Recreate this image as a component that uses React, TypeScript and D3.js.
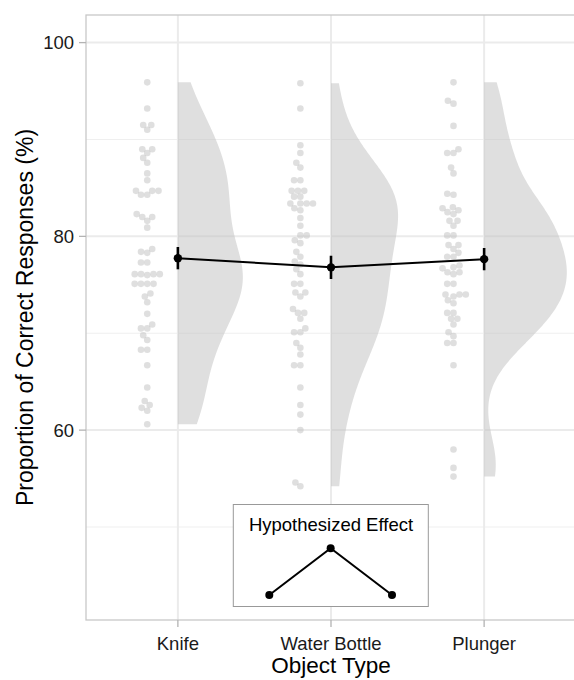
import * as d3 from "d3";

const objectTypes = ["Knife", "Water Bottle", "Plunger"];

// per-participant accuracy (%) for each object
const knifeScores = [95.9, 93.2, 91.5, 91.0, 91.5, 89.0, 88.6, 89.0, 88.1, 87.6, 86.5, 85.8, 84.7, 84.7, 84.3, 84.3, 84.7, 82.0, 81.6, 82.0, 82.3, 80.9, 78.4, 78.3, 78.7, 77.3, 77.3, 76.1, 76.1, 76.0, 76.1, 76.1, 75.1, 75.1, 75.1, 75.1, 73.8, 74.1, 73.2, 72.0, 70.5, 70.5, 70.9, 69.8, 69.3, 68.3, 68.3, 66.7, 64.4, 63.0, 62.6, 62.3, 62.0, 60.6];
const waterScores = [95.8, 93.2, 89.4, 88.6, 87.6, 87.1, 85.8, 85.8, 84.7, 84.7, 84.7, 84.1, 84.1, 83.4, 83.4, 83.4, 83.4, 82.9, 82.7, 81.9, 81.1, 80.1, 80.1, 79.6, 79.3, 78.4, 77.9, 77.4, 77.1, 76.6, 76.1, 75.1, 75.1, 74.2, 74.2, 73.8, 72.5, 72.1, 72.1, 71.5, 70.5, 70.1, 70.1, 69.0, 68.5, 67.8, 66.7, 66.7, 64.4, 62.6, 61.6, 60.0, 54.6, 54.2];
const plungerScores = [95.9, 94.0, 93.7, 91.4, 89.0, 88.6, 88.6, 87.1, 86.5, 84.4, 84.3, 83.0, 82.9, 82.7, 82.5, 82.3, 81.6, 81.6, 81.1, 80.1, 80.1, 79.1, 79.1, 78.7, 78.3, 77.9, 77.9, 77.0, 76.8, 76.7, 76.3, 76.3, 76.1, 75.1, 75.1, 74.0, 74.0, 74.0, 73.8, 73.4, 73.1, 72.1, 72.1, 71.5, 71.5, 70.9, 70.1, 69.7, 69.0, 69.0, 66.7, 58.0, 56.1, 55.2];

const means = [77.75, 76.8, 77.65];
const stdErrs = [1.15, 1.2, 1.15];

const yMajor = [60, 80, 100];
const yMinor = [50, 70, 90];

// inset: hypothesized pattern
const hypoValues = [0, 1, 0];

const width = 574;
const height = 680;
const panel = { left: 86, right: 576, top: 15, bottom: 620 };
const font = "'Liberation Sans', Arial, Helvetica, sans-serif";

const x = d3.scaleLinear([0.4, 3.6], [panel.left, panel.right]);
const y = d3.scaleLinear([40.4, 102.85], [panel.bottom, panel.top]);

// gaussian kde with R's bw.nrd0, trimmed to data range
function density(values: number[]) {
  const s = values.slice().sort(d3.ascending);
  const n = s.length;
  const sd = d3.deviation(s) as number;
  const iqr = (d3.quantileSorted(s, 0.75) as number) - (d3.quantileSorted(s, 0.25) as number);
  const bw = 0.9 * Math.min(sd, iqr / 1.34) * Math.pow(n, -0.2);
  const lo = s[0], hi = s[n - 1];
  const pts: [number, number][] = [];
  for (let i = 0; i < 512; i++) {
    const v = lo + ((hi - lo) * i) / 511;
    let d = 0;
    for (const u of s) {
      const z = (v - u) / bw;
      d += Math.exp(-0.5 * z * z);
    }
    pts.push([v, d / (n * bw * Math.sqrt(2 * Math.PI))]);
  }
  return pts;
}

// simple swarm layout (ascending priority), offsets in px
function swarm(values: number[], diam: number) {
  const order = values.map((v, i) => i).sort((a, b) => values[a] - values[b]);
  const placed: { py: number; dx: number }[] = [];
  const out: { v: number; dx: number }[] = [];
  for (const i of order) {
    const py = y(values[i]);
    const bad: [number, number][] = [];
    for (const p of placed) {
      const dy = Math.abs(p.py - py);
      if (dy < diam) {
        const w = Math.sqrt(diam * diam - dy * dy);
        bad.push([p.dx - w, p.dx + w]);
      }
    }
    const cands = [0, ...bad.flatMap((b) => b)].sort((a, b) => Math.abs(a) - Math.abs(b) || a - b);
    const dx = cands.find((c) => bad.every(([a, b]) => c <= a + 1e-6 || c >= b - 1e-6)) ?? 0;
    placed.push({ py, dx });
    out.push({ v: values[i], dx });
  }
  return out;
}

const groups = [knifeScores, waterScores, plungerScores];
const dens = groups.map(density);
const maxDens = d3.max(dens.flat(), (d) => d[1]) as number;
const halfWidth = 0.54; // x units for widest violin

const insetX = d3.scaleLinear([1, 3], [269.3, 392]);
const insetY = d3.scaleLinear([0, 1], [595, 548.3]);

export default function App() {
  const meanLine = d3.line<number>((d, i) => x(i + 1), (d) => y(d));
  const hypoLine = d3.line<number>((d, i) => insetX(i + 1), (d) => insetY(d));

  return (
    <svg width={width} height={height} style={{ position: "absolute", left: 0, top: 0, background: "white" }} fontFamily={font}>
      {/* grid */}
      <g>
        {yMinor.map((v) => (
          <line key={"mn" + v} x1={panel.left} x2={panel.right} y1={y(v)} y2={y(v)} stroke="#efefef" strokeWidth={1} />
        ))}
        {yMajor.map((v) => (
          <line key={"mj" + v} x1={panel.left} x2={panel.right} y1={y(v)} y2={y(v)} stroke="#ebebeb" strokeWidth={2} />
        ))}
        {objectTypes.map((c, i) => (
          <line key={c} x1={x(i + 1)} x2={x(i + 1)} y1={panel.top} y2={panel.bottom} stroke="#ebebeb" strokeWidth={2} />
        ))}
      </g>

      {/* half violins */}
      {dens.map((pts, i) => {
        const area = d3
          .area<[number, number]>()
          .y((d) => y(d[0]))
          .x0(x(i + 1))
          .x1((d) => x(i + 1 + (d[1] / maxDens) * halfWidth));
        return <path key={i} d={area(pts) as string} fill="#bfbfbf" fillOpacity={0.5} />;
      })}

      {/* raw points */}
      {groups.map((vals, i) => (
        <g key={i} fill="#bfbfbf" fillOpacity={0.5}>
          {swarm(vals, 6.3).map((p, j) => (
            <circle key={j} cx={x(i + 1 - 0.2) + p.dx} cy={y(p.v)} r={3.3} />
          ))}
        </g>
      ))}

      {/* means with error bars */}
      <path d={meanLine(means) as string} fill="none" stroke="black" strokeWidth={2} />
      {means.map((m, i) => (
        <g key={i}>
          <line x1={x(i + 1)} x2={x(i + 1)} y1={y(m - stdErrs[i])} y2={y(m + stdErrs[i])} stroke="black" strokeWidth={2.6} />
          <circle cx={x(i + 1)} cy={y(m)} r={4.2} fill="black" />
        </g>
      ))}

      {/* panel border */}
      <rect x={panel.left} y={panel.top} width={panel.right - panel.left} height={panel.bottom - panel.top} fill="none" stroke="#c8c8c8" strokeWidth={1.3} />

      {/* y axis */}
      {yMajor.map((v) => (
        <g key={v}>
          <line x1={panel.left - 7} x2={panel.left} y1={y(v)} y2={y(v)} stroke="#b3b3b3" strokeWidth={1.3} />
          <text x={panel.left - 12} y={y(v)} dy="0.36em" textAnchor="end" fontSize={18.5} fill="#1a1a1a">{v}</text>
        </g>
      ))}
      <text transform={`translate(33,${(panel.top + panel.bottom) / 2}) rotate(-90)`} textAnchor="middle" fontSize={23} fill="black">
        Proportion of Correct Responses (%)
      </text>

      {/* x axis */}
      {objectTypes.map((c, i) => (
        <g key={c}>
          <line x1={x(i + 1)} x2={x(i + 1)} y1={panel.bottom} y2={panel.bottom + 7} stroke="#b3b3b3" strokeWidth={1.3} />
          <text x={x(i + 1)} y={650} textAnchor="middle" fontSize={18.5} fill="#1a1a1a">{c}</text>
        </g>
      ))}
      <text x={331} y={673} textAnchor="middle" fontSize={22.5} fill="black">Object Type</text>

      {/* inset */}
      <rect x={233.3} y={504.5} width={195} height={102} fill="white" stroke="#999999" strokeWidth={1} />
      <text x={331} y={531} textAnchor="middle" fontSize={18.5} fill="black">Hypothesized Effect</text>
      <path d={hypoLine(hypoValues) as string} fill="none" stroke="black" strokeWidth={2} />
      {hypoValues.map((v, i) => (
        <circle key={i} cx={insetX(i + 1)} cy={insetY(v)} r={4} fill="black" />
      ))}
    </svg>
  );
}
